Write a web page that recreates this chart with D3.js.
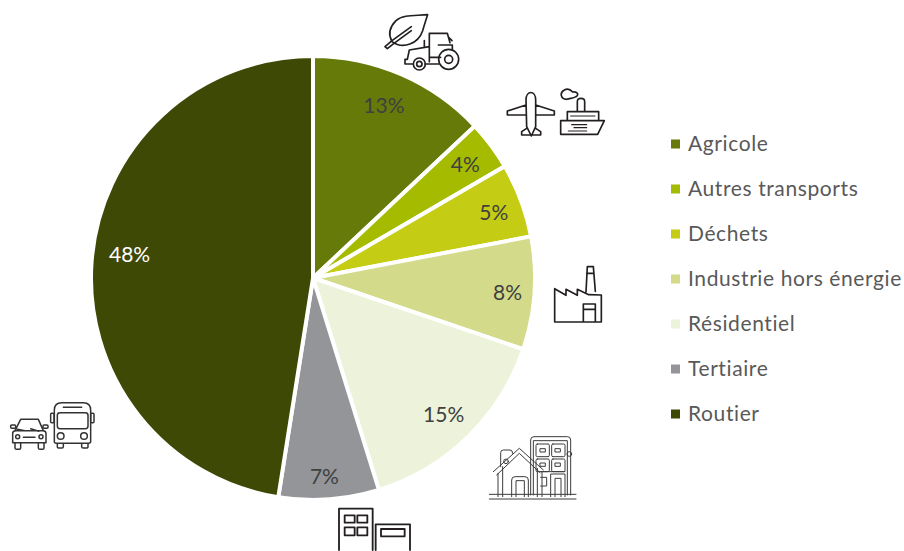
<!DOCTYPE html>
<html><head><meta charset="utf-8">
<script src="https://cdn.jsdelivr.net/npm/d3@7/dist/d3.min.js"></script>
<style>html,body{margin:0;padding:0;background:#fff}svg{display:block}</style>
</head><body><svg id="c" width="904" height="551"></svg>
<script>
const categories = ["Agricole","Autres transports","Déchets","Industrie hors énergie","Résidentiel","Tertiaire","Routier"];
const values = [13, 3.6, 5.4, 8.2, 15.0, 7.3, 47.5];
const labels = ["13%","4%","5%","8%","15%","7%","48%"];
const colors = ["#667A0A","#A5BB00","#C4CC14","#D3DB8A","#ECF3DA","#939598","#3E4906"];
const labelColors = ["#404040","#404040","#404040","#404040","#404040","#404040","#FFFFFF"];
const labelRadii = [186,190,193,195,190,200,185];
const labelDy = [-2,0,2,1,1,-1,-9];
const labelDx = [-3,0,0,0,-2,-3,1];

const FONT = "Lato, 'Open Sans', sans-serif";
const svg = d3.select("#c");
const cx = 313, cy = 278, R = 222;
const pie = d3.pie().sort(null).value(d => d)(values);
const arc = d3.arc().innerRadius(0).outerRadius(R);
const g = svg.append("g").attr("transform", `translate(${cx},${cy})`);
g.selectAll("path.s").data(pie).join("path").attr("class","s")
  .attr("d", arc).attr("fill", (d,i)=>colors[i]).attr("stroke","#fff").attr("stroke-width",4);
g.selectAll("text").data(pie).join("text")
  .attr("transform",(d,i)=>{const a=(d.startAngle+d.endAngle)/2;const r=labelRadii[i];return `translate(${r*Math.sin(a)+labelDx[i]},${-r*Math.cos(a)+labelDy[i]})`;})
  .attr("text-anchor","middle").attr("dy","0.35em")
  .attr("font-family",FONT).attr("font-size",21).attr("fill",(d,i)=>labelColors[i])
  .text((d,i)=>labels[i]);

const yLeg = d3.scalePoint().domain(categories).range([144,414]);
const leg = svg.append("g");
leg.selectAll("rect").data(categories).join("rect")
  .attr("x",671).attr("y",d=>yLeg(d)-4.5).attr("width",9).attr("height",9).attr("fill",(d,i)=>colors[i]);
leg.selectAll("text").data(categories).join("text")
  .attr("x",688).attr("y",d=>yLeg(d)).attr("dy","0.35em")
  .attr("font-family",FONT).attr("font-size",21).attr("letter-spacing",0.6).attr("fill","#595959").text(d=>d);

// Decorative line icons: each path is in the local coordinates of its icon, drawn at 1/3 scale
function icon(ox,oy,color,sw,d,circles=[],rects=[]){
  const ic=svg.append("g").attr("transform",`translate(${ox},${oy}) scale(${1/3})`)
    .attr("fill","none").attr("stroke",color).attr("stroke-width",sw).attr("stroke-linejoin","round").attr("stroke-linecap","round");
  ic.append("path").attr("d",d);
  ic.selectAll("circle").data(circles).join("circle").attr("cx",c=>c[0]).attr("cy",c=>c[1]).attr("r",c=>c[2]);
  ic.selectAll("rect").data(rects).join("rect").attr("x",r=>r[0]).attr("y",r=>r[1]).attr("width",r=>r[2]).attr("height",r=>r[3]).attr("rx",r=>r[4]||0);
}
const INK="#231f20";
// leaf + tractor
icon(370,0,INK,5,
 "M173 44C140 48 100 42 78 62C58 82 55 105 66 125C100 150 145 130 158 92C164 72 168 58 173 44Z"+
 "M45 140L52 146L72 130L124 92M45 140L66 122L124 80"+
 "M178 185V100H232L240 128M205 135H247V150M236 112L246 122"+
 "M178 140L118 150L112 178H105V192H128M165 192H206M163 122V140M178 172H212",
 [[236,178,30],[236,178,12],[148,192,18],[148,192,8]]);
// plane + ship
icon(370,0,INK,5,
 "M468 300C468 270 497 270 497 300V380L484 408L470 380ZM468 315L412 333V345H468M497 315L553 333V345H497"+
 "M470 385L455 395V405H512V395L497 385"+
 "M572 362H703L683 403H572ZM592 362V335H686V362M622 335V305C622 292 644 292 644 305V335"+
 "M590 298C572 298 568 278 583 270C593 264 603 270 608 276C622 274 628 284 618 290C610 296 600 294 590 298Z");
icon(370,0,INK,3.5,"M602 348H675M605 374H650M612 383H650M595 393H650");
// factory
icon(480,250,INK,5,
 "M224 216V116L258 136V118L292 136V118L326 134L364 135V216ZM318 126L322 50H340L346 124M320 70H342"+
 "M310 216V162H346V216M310 178H346");
// house + tower
icon(480,250,"#3c3c3c",3,
 "M28 733H288M28 747H288M152 735V570Q152 560 162 560H262Q272 560 272 570V735M160 735V572H262V735"+
 "M40 665L118 595L190 660M50 675L118 610L180 668M54 670V740M68 650V740M172 655V740M186 665V740"+
 "M95 740V690Q95 680 105 680H135Q145 680 145 690V740M108 740V692H133V740"+
 "M62 650V608Q62 600 70 600H90Q98 600 98 610M212 740V672H255V740M225 740V685H243V740M182 665H255M182 682H200V708H182",
 [[268,612,7],[78,634,7]],
 [[168,582,40,38,4],[215,582,40,38,4],[168,627,40,38,4],[215,627,40,38,4],[181,596,15,10],[226,596,15,10],[181,639,15,10],[226,639,15,10]]);
// car + bus
icon(0,390,"#333",4.5,
 "M163 60Q163 38 185 38H250Q272 38 272 60V155Q272 160 262 160H173Q163 160 163 155ZM190 52H245"+
 "M172 160V170Q172 174 178 174H186Q190 174 190 170V160M245 160V170Q245 174 250 174H258Q264 174 264 170V160"+
 "M45 122L62 88H115L130 122M38 130Q38 122 48 122H128Q138 122 138 130V158H38Z"+
 "M45 158V174Q45 178 50 178H58Q62 178 62 174V158M115 158V174Q115 178 120 178H128Q132 178 132 174V158"+
 "M70 142H105M52 118L75 122M92 116L116 124",
 [[182,138,10],[252,138,10],[53,140,6],[123,140,6]],
 [[172,68,92,48,8],[152,70,10,28,3],[272,70,10,28,3],[32,105,15,10,3],[129,105,15,10,3]]);
// tertiary buildings
icon(320,490,"#231f20",5.5,
 "M57 180V56H158V180M167 180V103H270V180",[],
 [[74,76,30,22],[112,76,30,22],[74,112,30,24],[112,112,30,24],[183,117,71,22]]);
</script></body></html>
